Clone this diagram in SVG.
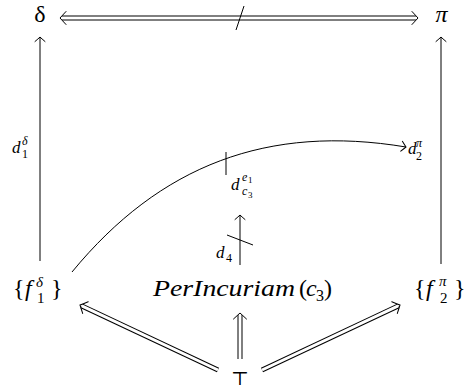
<svg xmlns="http://www.w3.org/2000/svg" xmlns:xlink="http://www.w3.org/1999/xlink" width="470" height="388" viewBox="0 0 470 388">
<style>
  .t { font-family: 'Liberation Serif', 'DejaVu Serif', serif; fill: #000; }
  .it { font-style: italic; }
  .big { font-size: 24px; }
  .lbl { font-size: 17px; }
  .scr { font-size: 12px; }
  .sscr { font-size: 9px; }
  .ln { fill: none; stroke: #000; stroke-width: 1; }
  .dbo { fill: none; stroke: #000; stroke-width: 5; }
  .dbi { fill: none; stroke: #fff; stroke-width: 3; }
</style>
<defs>
  <marker id="ah" markerUnits="userSpaceOnUse" markerWidth="14" markerHeight="14" viewBox="-7 -7 14 14" refX="0" refY="0" orient="auto" overflow="visible">
    <path d="M -4.5,-5 Q -1.5,-1.5 0,0 Q -1.5,1.5 -4.5,5" fill="none" stroke="#000" stroke-width="1" stroke-linecap="round"/>
  </marker>
  <path id="dh" d="M -6,-6.5 Q -2,-2.2 0,0 Q -2,2.2 -6,6.5" fill="none" stroke="#000" stroke-width="1" stroke-linecap="round"/>
</defs>

<g id="connectors">
  <path class="dbo" d="M 62,18 L 416,18"/>
  <path class="dbi" d="M 62,18 L 416,18"/>
  <use xlink:href="#dh" transform="translate(60,18) rotate(180)"/>
  <use xlink:href="#dh" transform="translate(418,18)"/>
  <path class="ln" d="M 244,6 L 236,30"/>
  <path class="ln" d="M 40,261 L 40,37" marker-end="url(#ah)"/>
  <path class="ln" d="M 441,264 L 441,37" marker-end="url(#ah)"/>
  <path class="ln" d="M 72,272 C 160,165 268,124 406,147" marker-end="url(#ah)"/>
  <path class="ln" d="M 226,152 L 226,175"/>
  <path class="ln" d="M 240,265 L 240,215" marker-end="url(#ah)"/>
  <path class="ln" d="M 227,235 L 253,245"/>
  <path class="dbo" d="M 218,370 L 81.8,305.9"/>
  <path class="dbi" d="M 218,370 L 81.8,305.9"/>
  <use xlink:href="#dh" transform="translate(80,305) rotate(205.2)"/>
  <path class="dbo" d="M 262,370 L 398.2,305.9"/>
  <path class="dbi" d="M 262,370 L 398.2,305.9"/>
  <use xlink:href="#dh" transform="translate(400,305) rotate(-25.2)"/>
  <path class="dbo" d="M 240,359 L 240,315"/>
  <path class="dbi" d="M 240,359 L 240,315"/>
  <use xlink:href="#dh" transform="translate(240,313) rotate(-90)"/>
</g>

<g id="delta"><text class="t big" x="40" y="22" text-anchor="middle">δ</text></g>
<g id="pi"><text class="t big it" x="441.5" y="22" text-anchor="middle">π</text></g>

<g id="f1">
  <text class="t big" x="13" y="296">{</text>
  <text class="t big it" x="25" y="296">f</text>
  <text class="t it" style="font-size:15px" x="36" y="287">δ</text>
  <text class="t" style="font-size:15px" x="37" y="303">1</text>
  <text class="t big" x="51" y="296">}</text>
</g>

<g id="perincuriam">
  <text class="t big it" x="153" y="296" textLength="142" lengthAdjust="spacingAndGlyphs">PerIncuriam</text>
  <text class="t big" x="299" y="296">(</text>
  <text class="t big it" x="306" y="296">c</text>
  <text class="t" style="font-size:16px" x="316" y="301">3</text>
  <text class="t big" x="324" y="296">)</text>
</g>

<g id="f2">
  <text class="t big" x="414" y="296">{</text>
  <text class="t big it" x="426" y="296">f</text>
  <text class="t it" style="font-size:15px" x="439" y="286">π</text>
  <text class="t" style="font-size:15px" x="440" y="303">2</text>
  <text class="t big" x="454" y="296">}</text>
</g>

<g id="top">
  <text x="240" y="385" text-anchor="middle" fill="#000" font-family="DejaVu Serif, DejaVu Sans, serif" style="font-size:19px">⊤</text>
</g>

<g id="label-d1">
  <text class="t lbl it" x="12" y="153">d</text>
  <text class="t scr it" x="22" y="145">δ</text>
  <text class="t scr" x="22" y="158">1</text>
</g>

<g id="label-d2">
  <text class="t lbl it" x="408" y="154">d</text>
  <text class="t scr it" x="416" y="147">π</text>
  <text class="t scr" x="416" y="160">2</text>
</g>

<g id="label-dc3">
  <text class="t lbl it" x="231" y="190">d</text>
  <text class="t scr it" x="242" y="181">e</text>
  <text class="t sscr" x="248" y="183">1</text>
  <text class="t scr it" x="242" y="195">c</text>
  <text class="t sscr" x="248" y="198">3</text>
</g>

<g id="label-d4">
  <text class="t lbl it" x="216" y="258">d</text>
  <text class="t scr" x="226" y="262">4</text>
</g>
</svg>
